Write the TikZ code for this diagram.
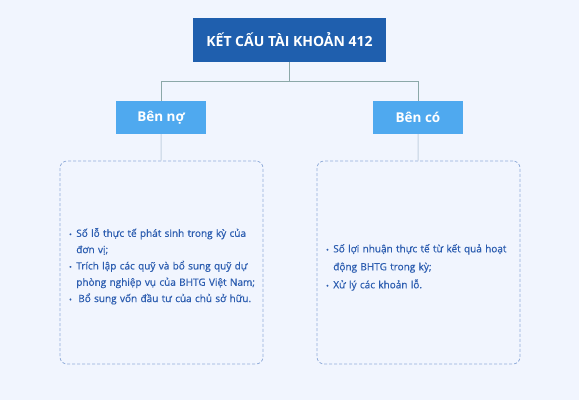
\documentclass[tikz,border=0pt]{standalone}
\usepackage{fontspec}
\setmainfont{Open Sans}
\newfontfamily\bodyfont[FakeBold=0.7]{Open Sans}
\usepackage{enumitem}
\usetikzlibrary{positioning, backgrounds}
\usepackage{xcolor}
\definecolor{mybg}{HTML}{F1F5FE}
\definecolor{mytitle}{HTML}{1F5FAE}
\definecolor{myhead}{HTML}{4FA9EF}
\definecolor{myline}{HTML}{8CA8A8}
\definecolor{mylightline}{HTML}{C4D2E2}
\definecolor{myborder}{HTML}{93AEDA}
\definecolor{mytext}{HTML}{2C5DB0}
\tikzset{
  title/.style={fill=mytitle,text=white,font=\bfseries\fontsize{14}{16}\selectfont,minimum width=193,minimum height=44,inner sep=0},
  head/.style={fill=myhead,text=white,font=\bfseries\fontsize{13.5}{15}\selectfont,minimum width=90,minimum height=33,inner sep=0},
  body/.style={draw=myborder,line width=0.8,dash pattern=on 3 off 2,rounded corners=7,minimum width=203,minimum height=203,inner sep=0},
  body text/.style={text=mytext,font=\bodyfont\fontsize{10}{16.3}\selectfont,text width=200,inner sep=0,align=left},
  connect/.style={myline,line width=0.9},
  connect light/.style={mylightline,line width=0.9}
}
\newcommand{\bodylist}[1]{%
  \begin{itemize}[leftmargin=8.5pt,labelsep=4.5pt,itemsep=0pt,topsep=0pt,parsep=0pt,partopsep=0pt,label={\scriptsize\textbullet}]
  #1
  \end{itemize}}

\begin{document}
\begin{tikzpicture}[x=1pt,y=-1pt]
  % --- CANVAS ---
  \fill[mybg] (0,0) rectangle (579,400);
  \useasboundingbox (0,0) rectangle (579,400);

  % --- TOP: TITLE ---
  \node[title] (title) at (289.5, 40) {KẾT CẤU TÀI KHOẢN 412};

  % --- LEVEL 2: SIDES ---
  \node[head] (debit) at (161, 117.5) {Bên nợ};
  \node[head] (credit) at (418, 117.5) {Bên có};

  % --- LEVEL 3: CONTENT BOXES ---
  \node[body] (debit-body) at (161.5, 262.5) {};
  \node[body] (credit-body) at (418.5, 262.5) {};

  % Content of the boxes
  \node[body text, anchor=west] (debit-text) at ([xshift=8]debit-body.west) {\bodylist{
    \item Số lỗ thực tế phát sinh trong kỳ của\\đơn vị;
    \item Trích lập các quỹ và bổ sung quỹ dự\\phòng nghiệp vụ của BHTG Việt Nam;
    \item \hspace{2pt}Bổ sung vốn đầu tư của chủ sở hữu.}};
  \node[body text, anchor=west, font=\bodyfont\fontsize{10}{18}\selectfont] (credit-text) at ([xshift=8]credit-body.west) {\bodylist{
    \item Số lợi nhuận thực tế từ kết quả hoạt\\động BHTG trong kỳ;
    \item Xử lý các khoản lỗ.}};

  % --- CONNECTIONS ---
  \draw[connect] (title.south) -- ++(0,19) -| (debit.north);
  \draw[connect] (title.south) -- ++(0,19) -| (credit.north);
  \draw[connect light] (debit) -- (debit-body);
  \draw[connect light] (credit) -- (credit-body);
  % redraw heads over the light lines
  \node[head] at (debit) {Bên nợ};
  \node[head] at (credit) {Bên có};
\end{tikzpicture}
\end{document}
